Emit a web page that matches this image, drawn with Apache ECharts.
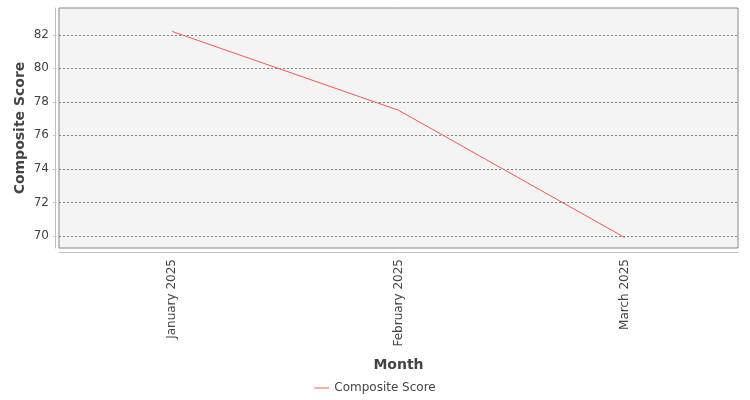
<!DOCTYPE html>
<html lang="en">
<head>
  <meta charset="UTF-8">
  <title>Composite Score by Month</title>
  <script src="https://cdn.jsdelivr.net/npm/echarts@6.0.0/dist/echarts.min.js"></script>
  <style>
    body { margin: 0; padding: 0; background: #ffffff; }
    #chart { width: 750px; height: 400px; }
  </style>
</head>
<body>
  <div id="chart"></div>
  <script>
    // data
    const months = ['January 2025', 'February 2025', 'March 2025'];
    const compositeScore = [82.2, 77.5, 69.9];
    const seriesName = 'Composite Score';

    const myChart = echarts.init(document.getElementById('chart'));
    const font = 'DejaVu Sans, sans-serif';

    const option = {
      animation: false,
      textStyle: { fontFamily: font },
      grid: {
        left: 59, top: 8, right: 12, bottom: 152,
        show: true,
        backgroundColor: '#f4f4f4',
        borderColor: '#888888',
        borderWidth: 1
      },
      legend: {
        bottom: 1,
        left: 'center',
        itemWidth: 15,
        itemHeight: 1,
        itemGap: 10,
        textStyle: { fontFamily: font, fontSize: 12, color: '#444444' },
        data: [{ name: seriesName, icon: 'rect' }]
      },
      xAxis: {
        type: 'category',
        data: months,
        offset: 4,
        boundaryGap: true,
        name: 'Month',
        nameLocation: 'middle',
        nameGap: 106,
        nameMoveOverlap: false,
        nameTextStyle: { fontFamily: font, fontSize: 14, fontWeight: 'bold', color: '#444444' },
        axisLine: { lineStyle: { color: '#c0c0c0' } },
        axisTick: { alignWithLabel: true, length: 4, lineStyle: { color: '#c0c0c0' } },
        axisLabel: { rotate: 90, margin: 7, fontSize: 12, color: '#444444' },
        splitLine: { show: false }
      },
      yAxis: {
        type: 'value',
        min: 69.28,
        max: 83.6,
        splitNumber: 7,
        offset: 4,
        name: 'Composite Score',
        nameLocation: 'middle',
        nameGap: 28,
        nameMoveOverlap: false,
        nameTextStyle: { fontFamily: font, fontSize: 14, fontWeight: 'bold', color: '#444444' },
        axisLine: { show: true, lineStyle: { color: '#c0c0c0' } },
        axisTick: { show: true, length: 2, lineStyle: { color: '#c0c0c0' } },
        axisLabel: {
          showMinLabel: false,
          showMaxLabel: false,
          margin: 6,
          fontSize: 12,
          color: '#444444',
          formatter: v => (Math.abs(v - Math.round(v)) < 1e-6 ? String(Math.round(v)) : '')
        },
        splitLine: {
          show: true,
          showMinLine: false,
          showMaxLine: false,
          lineStyle: { color: '#808080', type: [2, 2], width: 1 }
        }
      },
      series: [{
        name: seriesName,
        type: 'line',
        data: compositeScore,
        symbol: 'none',
        lineStyle: { color: '#ff5555', width: 1 },
        itemStyle: { color: '#ff5555' }
      }]
    };

    myChart.setOption(option);
  </script>
</body>
</html>
